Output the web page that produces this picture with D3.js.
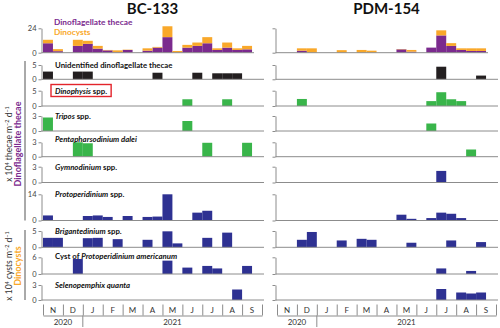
<!DOCTYPE html>
<html>
<head>
<meta charset="utf-8">
<script src="https://cdn.jsdelivr.net/npm/d3@7"></script>
<style>
body { margin: 0; background: #fff; }
svg { display: block; font-family: Lato, "Open Sans", sans-serif; }
</style>
</head>
<body>
<svg id="chart" width="500" height="328"></svg>
<script>
// sampling in half-month steps, Nov 2020 - Sep 2021
const months = ["N", "D", "J", "F", "M", "A", "M", "J", "J", "A", "S"];
const years = ["2020", "2021"];
const yearStart = [0, 2, 11];
const stations = ["BC-133", "PDM-154"];

// totals (x10^4 m-2 d-1)
const bcThecae  = [9.3,1.5,0,6.7,8.7,4,2.3,0.3,2.7,0,2,5,15.3,0,5,6.7,9.3,2.7,5,2.7,3.3,0];
const bcCysts   = [3.4,2,0,6,3,2.7,0.4,2,0.3,0,2.3,0.7,10.7,1.7,2.7,3.3,6,1.6,5,1.6,3.4,0];
const pdmThecae = [0,0,2,0,0,0,0,0,0,0,0,0,3.3,1,0,5,17,6.7,2.7,1.7,1.7,0];
const pdmCysts  = [0,0,2.3,4.3,0,0,2.5,0,2.7,2,0,0,0.3,1.7,0,0,5,2.7,1.6,2.6,2.6,0];

// species
const bcUnidentified  = [2.7,0,0,2.7,2.7,0,0,0,0,0,0,2.3,0,0,0,2.3,0,2.1,2.1,2.1,0,0];
const pdmUnidentified = [0,0,0,0,0,0,0,0,0,0,0,0,0,0,0,0,4.4,0,0,0,1.3,0];
const bcDinophysis    = [0,0,0,0,0,0,0,0,0,0,0,0,0,0,2.2,0,0,0,2.2,0,0,0];
const pdmDinophysis   = [0,0,2.3,0,0,0,0,0,0,0,0,0,0,0,0,1.6,4.5,2.2,1.6,0,0,0];
const bcTripos        = [2.7,0,0,0,0,0,0,0,0,0,0,0,0,0,2.0,0,0,0,0,0,0,0];
const pdmTripos       = [0,0,0,0,0,0,0,0,0,0,0,0,0,0,0,1.5,0,0,0,0,0,0];
const bcPentaph       = [0,0,0,3.0,2.8,0,0,0,0,0,0,0,0,0,0,0,2.9,0,0,0,2.9,0];
const pdmPentaph      = [0,0,0,0,0,0,0,0,0,0,0,0,0,0,0,0,0,0,0,1.5,0,0];
const bcGymno         = [0,0,0,0,0,0,0,0,0,0,0,0,0,0,0,0,0,0,0,0,0,0];
const pdmGymno        = [0,0,0,0,0,0,0,0,0,0,0,0,0,0,0,0,2.2,0,0,0,0,0];
const bcProtoperi     = [2.7,0,0,0,2.4,2.7,1.9,0,2.4,0,1.9,2.1,14,0,0,4.2,5.2,0,0,0,0,0];
const pdmProtoperi    = [0,0,0,0,0,0,0,0,0,0,0,0,3.1,0.9,0,1.3,4.2,3.6,1.3,0,0,0];
const bcBrigant       = [2.9,2.9,0,0,2.8,2.9,0,2.5,0,0,2.3,0,4.9,1.2,0,0,2.9,0,4.5,0,0,0];
const pdmBrigant      = [0,0,2.3,4.7,0,0,2.1,0,2.6,2.3,0,0,0,1.4,0,0,0,2.1,0,0,1.6,0];
const bcAmericanum    = [0,0,0,5.4,0,0,0,0,0,0,0,0,4.8,0,2.3,0,2.9,2.0,0,0,2.9,0];
const pdmAmericanum   = [0,0,0,0,0,0,0,0,0,0,0,0,0,0,0,0,2.0,0,0,1.1,0,0];
const bcSelenop       = [0,0,0,0,0,0,0,0,0,0,0,0,0,0,0,0,0,0,0,2.1,0,0];
const pdmSelenop      = [0,0,0,0,0,0,0,0,0,0,0,0,0,0,0,0,2.2,0,1.5,1.3,1.5,0];

const speciesLabels = [
  [["Unidentified dinoflagellate thecae", false]],
  [["Dinophysis", true], [" spp.", false]],
  [["Tripos", true], [" spp.", false]],
  [["Pentapharsodinium dalei", true]],
  [["Gymnodinium", true], [" spp.", false]],
  [["Protoperidinium", true], [" spp.", false]],
  [["Brigantedinium", true], [" spp.", false]],
  [["Cyst of ", false], ["Protoperidinium americanum", true]],
  [["Selenopemphix quanta", true]]
];
const speciesMax = [5, 5, 3, 3, 3, 14, 5, 6, 3];
const speciesData = [
  [bcUnidentified, pdmUnidentified],
  [bcDinophysis, pdmDinophysis],
  [bcTripos, pdmTripos],
  [bcPentaph, pdmPentaph],
  [bcGymno, pdmGymno],
  [bcProtoperi, pdmProtoperi],
  [bcBrigant, pdmBrigant],
  [bcAmericanum, pdmAmericanum],
  [bcSelenop, pdmSelenop]
];
const totalMax = 24;

// layout
const purple = "#7b2a8e", orange = "#f9a82a";
const speciesColor = ["#231f20", "#39b54a", "#39b54a", "#39b54a", "#2e3192",
                      "#2e3192", "#2e3192", "#2e3192", "#2e3192"];
const rowTop  = [28.3, 65, 90.7, 116, 142.3, 166.7, 194.3, 231, 257.3, 285];
const rowBase = [52.7, 79.3, 106, 131, 156.7, 182.5, 220.5, 247.3, 274, 300];
const labelShift = [0, 0, 0, 0, -3, 0, 0, 0, -1, 0];
const panelRange = [[43, 262], [277, 496]];
const axisColor = "#8c8c8c";

const svg = d3.select("#chart");

function drawAxis(g, y, max, x0, showLabels) {
  const ax = g.append("g")
    .attr("transform", `translate(${x0 - 1.5},0)`)
    .call(d3.axisLeft(y).tickValues([0, max]).tickSize(3).tickSizeOuter(0)
      .tickFormat(showLabels ? d3.format("d") : ""));
  ax.select(".domain").attr("stroke", axisColor);
  ax.selectAll(".tick line").attr("stroke", axisColor);
  ax.selectAll(".tick text").attr("fill", "#444").attr("font-size", 7.5)
    .attr("font-family", "Lato, sans-serif").attr("x", -5);
}

stations.forEach((st, p) => {
  const [x0, x1] = panelRange[p];
  const x = d3.scaleLinear().domain([0, 22]).range([x0, x1]);
  const g = svg.append("g");

  g.append("text").attr("x", (x0 + x1) / 2).attr("y", 14)
    .attr("text-anchor", "middle").attr("font-weight", 700)
    .attr("font-size", 15).attr("fill", "#111").text(st);

  // total panel (stacked)
  const th = p ? pdmThecae : bcThecae;
  const cy = p ? pdmCysts : bcCysts;
  const rows = th.map((v, i) => ({ i: i, thecae: v, cysts: cy[i] }));
  const stacked = d3.stack().keys(["thecae", "cysts"])(rows);
  const y0 = d3.scaleLinear().domain([0, totalMax]).range([rowBase[0], rowTop[0]]);
  g.append("g").selectAll("g").data(stacked).join("g")
    .attr("fill", (d, k) => k ? orange : purple)
    .selectAll("rect").data(d => d.filter(s => s[1] - s[0] > 0)).join("rect")
    .attr("x", s => x(s.data.i)).attr("width", s => x(s.data.i + 1) - x(s.data.i))
    .attr("y", s => y0(s[1])).attr("height", s => y0(s[0]) - y0(s[1]));
  g.append("line").attr("x1", x0 - 1.5).attr("x2", x1 - 8)
    .attr("y1", y0(0)).attr("y2", y0(0)).attr("stroke", axisColor);
  drawAxis(g, y0, totalMax, x0, p === 0);

  speciesData.forEach((pair, r) => {
    const row = r + 1;
    const y = d3.scaleLinear().domain([0, speciesMax[r]]).range([rowBase[row], rowTop[row]]);
    const vals = pair[p].map((v, i) => ({ i: i, v: v })).filter(d => d.v > 0);
    g.append("g").selectAll("rect").data(vals).join("rect")
      .attr("x", d => x(d.i)).attr("width", d => x(d.i + 1) - x(d.i))
      .attr("y", d => y(d.v)).attr("height", d => y(0) - y(d.v))
      .attr("fill", speciesColor[r]);
    g.append("line").attr("x1", x0 - 1.5).attr("x2", x1 + 2)
      .attr("y1", y(0)).attr("y2", y(0)).attr("stroke", axisColor);
    drawAxis(g, y, speciesMax[r], x0, p === 0);

    if (p === 0) {
      const t = g.append("text").attr("x", x0 + 12)
        .attr("y", rowTop[row] + labelShift[row] + 2.8)
        .attr("font-size", 7.8).attr("font-weight", 700).attr("fill", "#111");
      t.selectAll("tspan").data(speciesLabels[r]).join("tspan")
        .attr("font-style", d => d[1] ? "italic" : "normal").text(d => d[0]);
      if (r === 1) {
        const b = t.node().getBBox();
        g.append("rect").attr("x", b.x - 4).attr("y", b.y - 1)
          .attr("width", b.width + 8).attr("height", b.height + 2)
          .attr("fill", "none").attr("stroke", "#e3242b").attr("stroke-width", 1.4);
      }
    }
  });

  // month axis
  const xm = d3.scaleLinear().domain([0, months.length]).range([x0, x1]);
  const mAx = g.append("g").attr("transform", "translate(0,315.5)")
    .call(d3.axisTop(xm).tickValues(d3.range(months.length + 1))
      .tickSize(11).tickSizeOuter(0).tickFormat(""));
  mAx.selectAll("line, path").attr("stroke", axisColor);
  g.append("g").selectAll("text").data(months).join("text")
    .attr("x", (d, i) => xm(i + 0.5)).attr("y", 313)
    .attr("text-anchor", "middle").attr("font-size", 8).attr("fill", "#333")
    .text(d => d);
  g.append("line").attr("x1", xm(yearStart[1])).attr("x2", xm(yearStart[1]))
    .attr("y1", 315.5).attr("y2", 327).attr("stroke", axisColor);
  g.append("g").selectAll("text").data(years).join("text")
    .attr("x", (d, i) => xm((yearStart[i] + yearStart[i + 1]) / 2)).attr("y", 324.5)
    .attr("text-anchor", "middle").attr("font-size", 8).attr("fill", "#333")
    .text(d => d);
});

// legend in total panel
svg.append("text").attr("x", 54).attr("y", 25).attr("font-size", 8.3)
  .attr("font-weight", 700).attr("fill", purple).text("Dinoflagellate thecae");
svg.append("text").attr("x", 54).attr("y", 35).attr("font-size", 8.3)
  .attr("font-weight", 700).attr("fill", orange).text("Dinocysts");

// group brackets and units
svg.append("line").attr("x1", 25).attr("x2", 25).attr("y1", 61).attr("y2", 220.5)
  .attr("stroke", "#555");
svg.append("line").attr("x1", 25).attr("x2", 25).attr("y1", 230).attr("y2", 300)
  .attr("stroke", "#555");

function unitLabel(cx, cy, word) {
  const t = svg.append("text").attr("transform", `translate(${cx},${cy}) rotate(-90)`)
    .attr("text-anchor", "middle").attr("font-size", 8.5).attr("fill", "#333");
  t.append("tspan").text("x 10");
  t.append("tspan").attr("font-size", 5.5).attr("dy", -3).text("4");
  t.append("tspan").attr("dy", 3).text(" " + word + " m");
  t.append("tspan").attr("font-size", 5.5).attr("dy", -3).text("−2");
  t.append("tspan").attr("dy", 3).text(" d");
  t.append("tspan").attr("font-size", 5.5).attr("dy", -3).text("−1");
}
unitLabel(12, 144, "thecae");
unitLabel(12, 266, "cysts");
svg.append("text").attr("transform", "translate(20.5,144) rotate(-90)")
  .attr("text-anchor", "middle").attr("font-size", 9).attr("font-weight", 700)
  .attr("fill", purple).text("Dinoflagellate thecae");
svg.append("text").attr("transform", "translate(20.5,266) rotate(-90)")
  .attr("text-anchor", "middle").attr("font-size", 9).attr("font-weight", 700)
  .attr("fill", orange).text("Dinocysts");
</script>
</body>
</html>
